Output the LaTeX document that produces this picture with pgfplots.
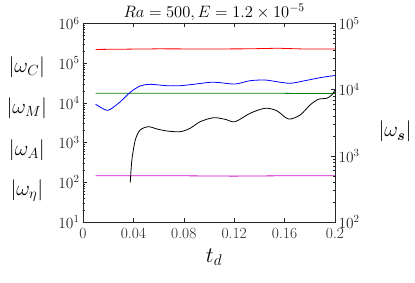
\RequirePackage{fix-cm}
\documentclass[border=0pt]{standalone}
\usepackage{amsmath}
\usepackage{pgfplots}
\pgfplotsset{compat=1.18}
\definecolor{axgray}{gray}{0.15}
\definecolor{mygreen}{rgb}{0,0.5,0}
\definecolor{mymag}{rgb}{0.8,0.05,0.8}
\begin{document}
\begin{tikzpicture}
\useasboundingbox (-83pt,-61pt) rectangle (332pt,222pt);
\begin{axis}[
  scale only axis, width=252pt, height=198.5pt,
  xmin=0, xmax=0.2, ymode=log, ymin=10, ymax=1e6,
  xtick={0,0.04,0.08,0.12,0.16,0.2},
  xticklabels={0,0.04,0.08,0.12,0.16,0.2},
  xtick pos=both, ytick pos=left,
  tick align=inside,
  major tick length=4pt, minor tick length=2pt,
  axis line style={axgray}, tick style={axgray, line width=0.4pt},
  tick label style={font=\fontsize{15.5}{15.5}\selectfont, text=axgray},
  xticklabel style={yshift=-3pt},
  clip=false,
]
\addplot[red, line width=0.8pt] coordinates {
(0.010,2.22e5) (0.030,2.25e5) (0.060,2.30e5) (0.100,2.28e5) (0.130,2.30e5) (0.155,2.38e5) (0.175,2.28e5) (0.200,2.28e5)};
\addplot[mygreen, line width=0.8pt] coordinates {
(0.010,1.75e4) (0.050,1.75e4) (0.100,1.75e4) (0.150,1.75e4) (0.180,1.72e4) (0.200,1.72e4)};
\addplot[mymag, line width=0.8pt] coordinates {
(0.010,147) (0.060,147) (0.120,143) (0.160,146) (0.200,147)};
\addplot[blue, line width=0.8pt, smooth] coordinates {
(0.0100,9220) (0.0180,6620) (0.0217,6900) (0.0296,10700) (0.0375,18500) (0.0454,26700)
(0.0534,29400) (0.0666,27100) (0.0770,27100) (0.0877,29400) (0.1010,33000) (0.1090,32300)
(0.1207,29900) (0.1326,36200) (0.1445,37700) (0.1538,34200) (0.1644,31200) (0.1749,35600)
(0.1881,43100) (0.1987,48400) (0.2000,48800)};
\node[font=\fontsize{16.5}{16.5}\selectfont, inner sep=0pt] at (axis description cs:0.52,1.058) {$Ra=500, E=1.2\times10^{-5}$};
\node[font=\fontsize{22}{22}\selectfont, inner sep=0pt] at (axis description cs:0.52,-0.176) {$t_d$};
\node[font=\fontsize{21}{21}\selectfont, inner sep=0pt] at (axis description cs:-0.223,0.782) {$|\omega_C|$};
\node[font=\fontsize{21}{21}\selectfont, inner sep=0pt] at (axis description cs:-0.223,0.573) {$|\omega_M|$};
\node[font=\fontsize{21}{21}\selectfont, inner sep=0pt] at (axis description cs:-0.223,0.363) {$|\omega_A|$};
\node[font=\fontsize{21}{21}\selectfont, inner sep=0pt] at (axis description cs:-0.223,0.157) {$|\omega_\eta|$};
\end{axis}
\begin{axis}[
  scale only axis, width=252pt, height=198.5pt,
  xmin=0, xmax=0.2, ymode=log, ymin=100, ymax=1e5,
  axis x line=none, axis y line*=right,
  tick align=inside,
  major tick length=4pt, minor tick length=2pt,
  axis line style={axgray}, tick style={axgray, line width=0.4pt},
  tick label style={font=\fontsize{15.5}{15.5}\selectfont, text=axgray},
  clip=false,
]
\addplot[black, line width=0.8pt, smooth] coordinates {
(0.0375,393) (0.0388,865) (0.0415,1735) (0.0454,2460) (0.0520,2754) (0.0587,2545)
(0.0666,2374) (0.0771,2316) (0.0850,2607) (0.0930,3281) (0.1036,3770) (0.1128,3566)
(0.1207,3281) (0.1326,4395) (0.1445,5227) (0.1538,4808) (0.1630,3606) (0.1723,4141)
(0.1802,5866) (0.1868,7150) (0.1934,7410) (0.1974,8300) (0.2000,9890)};
\node[font=\fontsize{21}{21}\selectfont, inner sep=0pt] at (axis description cs:1.238,0.455) {$|\omega_{\boldsymbol{s}}|$};
\end{axis}
\end{tikzpicture}
\end{document}
